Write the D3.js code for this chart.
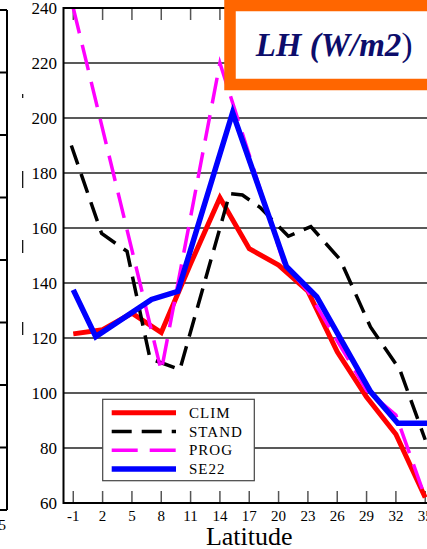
<!DOCTYPE html>
<html lang="en">
<head>
<meta charset="utf-8">
<title>LH (W/m2)</title>
<style>
    body { margin: 0; background: #fff; }
    svg text { font-family: "Liberation Serif", "DejaVu Serif", serif; fill: #000; }
    .grid line { stroke: #222; stroke-width: 1.5px; }
    .ticks line { stroke: #555; stroke-width: 1.5px; }
</style>
</head>
<body>
<svg width="427" height="549"></svg>
<script src="https://cdnjs.cloudflare.com/ajax/libs/d3/7.8.5/d3.min.js"></script>
<script>
// tick labels
var latTicks = [-1, 2, 5, 8, 11, 14, 17, 20, 23, 26, 29, 32, 35];
var yTicks = [60, 80, 100, 120, 140, 160, 180, 200, 220, 240];

// series (lat, value)
var climLat = [-1, 2, 5, 8, 11, 14, 17, 20, 23, 26, 29, 32, 35];
var climVal = [121.5, 123, 129, 122, 147, 171, 152.5, 146.5, 137, 115, 98.5, 85, 62];

var standLat = [-1.2, 1.9, 4.5, 6.85, 9.9, 15.0, 16.3, 18.1, 21.0, 23.3, 26.3, 29.4, 32.4, 35];
var standVal = [190, 158, 151.5, 112.5, 108.5, 172.5, 172, 167.5, 157, 160.5, 148.5, 124, 108.5, 83];

var progLat = [-1, 8, 14, 20.5, 23, 26, 29, 32, 35];
var progVal = [240, 108, 220, 147.5, 137, 119, 101, 92, 62];

var se22Lat = [-1, 1.3, 7.0, 9.7, 15.3, 20.8, 23.9, 29.4, 32.2, 36];
var se22Val = [137.5, 120.5, 134, 137, 202, 146, 135, 100.5, 89, 89];

var names = ["CLIM", "STAND", "PROG", "SE22"];

var svg = d3.select("svg");

var pLeft = 63.5, pRight = 435, pTop = 8, pBottom = 503;
var x = d3.scaleLinear().domain([-2, 36]).range([pLeft, pRight]);
var y = d3.scaleLinear().domain([60, 240]).range([pBottom, pTop]);

// bit of the neighbouring panel on the left
var lp = svg.append("g");
lp.append("line").attr("x1", 7).attr("x2", 7).attr("y1", 10).attr("y2", 510)
    .attr("stroke", "#000").attr("stroke-width", 2);
d3.range(9).forEach(function (i) {
    lp.append("line").attr("x1", 0).attr("x2", 7)
        .attr("y1", 10 + i * 62.5).attr("y2", 10 + i * 62.5)
        .attr("stroke", "#000").attr("stroke-width", 2);
});
lp.append("text").attr("x", 6).attr("y", 530).attr("text-anchor", "end")
    .style("font-size", "15px").text("35");
[[94, 98], [171, 188], [240, 253], [322, 335]].forEach(function (s) {
    lp.append("line").attr("x1", 22.7).attr("x2", 22.7).attr("y1", s[0]).attr("y2", s[1])
        .attr("stroke", "#000").attr("stroke-width", 1.2);
});

// horizontal grid
svg.append("g").attr("class", "grid")
    .selectAll("line")
    .data(yTicks.slice(1, -1))
    .enter().append("line")
    .attr("x1", pLeft).attr("x2", pRight)
    .attr("y1", function (d) { return y(d); })
    .attr("y2", function (d) { return y(d); });

// inward ticks top and bottom
var ticks = svg.append("g").attr("class", "ticks");
ticks.selectAll(".tb").data(latTicks).enter().append("line")
    .attr("x1", function (d) { return x(d); }).attr("x2", function (d) { return x(d); })
    .attr("y1", pBottom).attr("y2", pBottom - 12);
ticks.selectAll(".tt").data(latTicks).enter().append("line")
    .attr("x1", function (d) { return x(d); }).attr("x2", function (d) { return x(d); })
    .attr("y1", pTop).attr("y2", pTop + 12);

// tick labels
svg.append("g").selectAll("text").data(yTicks).enter().append("text")
    .attr("x", 57).attr("y", function (d) { return y(d) + 6; })
    .attr("text-anchor", "end").style("font-size", "17px")
    .text(function (d) { return d; });

svg.append("g").selectAll("text").data(latTicks).enter().append("text")
    .attr("x", function (d) { return x(d); }).attr("y", 521)
    .attr("text-anchor", "middle").style("font-size", "15px")
    .text(function (d) { return d; });

svg.append("text").attr("x", (pLeft + pRight) / 2).attr("y", 545)
    .attr("text-anchor", "middle").style("font-size", "26px").text("Latitude");

// lines
svg.append("clipPath").attr("id", "plot").append("rect")
    .attr("x", pLeft).attr("y", pTop).attr("width", pRight - pLeft).attr("height", pBottom - pTop);

var line = d3.line()
    .x(function (d) { return x(d[0]); })
    .y(function (d) { return y(d[1]); });

var series = [
    { lat: climLat, val: climVal, color: "#ff0000", width: 5, dash: null },
    { lat: standLat, val: standVal, color: "#000000", width: 3.5, dash: "20,10" },
    { lat: progLat, val: progVal, color: "#ff00ff", width: 3.5, dash: "26,12" },
    { lat: se22Lat, val: se22Val, color: "#0000ff", width: 5.5, dash: null }
];

var lines = svg.append("g").attr("clip-path", "url(#plot)");
series.forEach(function (s) {
    lines.append("path")
        .datum(d3.zip(s.lat, s.val))
        .attr("d", line)
        .attr("fill", "none")
        .attr("stroke", s.color)
        .attr("stroke-width", s.width)
        .attr("stroke-linejoin", "miter")
        .attr("stroke-miterlimit", 10)
        .attr("stroke-dasharray", s.dash);
});

// frame
svg.append("rect").attr("x", pLeft).attr("y", pTop)
    .attr("width", pRight - pLeft).attr("height", pBottom - pTop)
    .attr("fill", "none").attr("stroke", "#000").attr("stroke-width", 2);

// legend
var lg = svg.append("g");
lg.append("rect").attr("x", 102.7).attr("y", 399.3).attr("width", 151.6).attr("height", 81.4)
    .attr("fill", "#fff").attr("stroke", "#444").attr("stroke-width", 1.2);
series.forEach(function (s, i) {
    var ly = 412.7 + i * 18.8;
    lg.append("line").attr("x1", 111.7).attr("x2", 176).attr("y1", ly).attr("y2", ly)
        .attr("stroke", s.color).attr("stroke-width", s.width)
        .attr("stroke-dasharray", s.dash);
    lg.append("text").attr("x", 189).attr("y", ly + 5)
        .style("font-size", "15px").style("letter-spacing", "1px")
        .text(names[i]);
});

// title box
svg.append("rect").attr("x", 230).attr("y", 5.5).attr("width", 220).attr("height", 79)
    .attr("fill", "#fff").attr("stroke", "#ff6600").attr("stroke-width", 11.5);
var title = svg.append("text").attr("x", 334).attr("y", 56).attr("text-anchor", "middle")
    .style("font-size", "33px").style("font-weight", "bold").style("font-style", "italic")
    .style("fill", "#0d0d6b");
title.append("tspan").text("LH (W/m2");
title.append("tspan").style("font-style", "normal").style("font-weight", "normal").text(")");
</script>
</body>
</html>
